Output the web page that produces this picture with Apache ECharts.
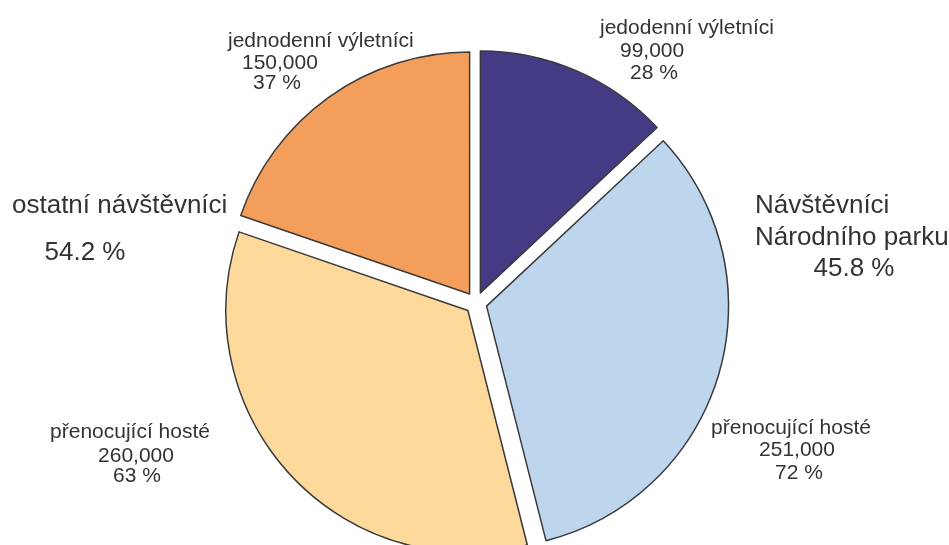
<!DOCTYPE html>
<html>
<head>
<meta charset="utf-8">
<script src="https://cdn.jsdelivr.net/npm/echarts@6/dist/echarts.min.js"></script>
<style>
  html, body { margin: 0; padding: 0; background: #ffffff; }
  #chart { width: 949px; height: 545px; }
</style>
</head>
<body>
<div id="chart"></div>
<script>
// Visitor categories, clockwise from 12 o'clock
const categories = ['jedodenní výletníci', 'přenocující hosté', 'přenocující hosté', 'jednodenní výletníci'];
const visitors = [99000, 251000, 260000, 150000];
// 0 = park visitors, 1 = other visitors
const groupIndex = [0, 0, 1, 1];
const groupTitles = [['Návštěvníci', 'Národního parku'], ['ostatní návštěvníci']];
const groupShares = [45.8, 54.2];

const sliceColors = ['#433b84', '#bed5ee', '#fdd99b', '#f49e5b'];

// share of each slice within its own group
const groupTotals = [0, 0];
visitors.forEach((v, i) => { groupTotals[groupIndex[i]] += v; });
const groupPct = visitors.map((v, i) => Math.round(v / groupTotals[groupIndex[i]] * 100));

const fmt = v => v.toLocaleString('en-US');

const font = '"Liberation Sans", Arial, sans-serif';
const smallFont = '21px ' + font;
const bigFont = '26px ' + font;

// per-slice label lines: [x, y] for name / value / percentage, and text alignment
const labelLines = [
  { align: 'left',   pts: [[600, 28], [620, 51], [630, 73]] },
  { align: 'center', pts: [[791, 428], [797, 450], [799, 473]] },
  { align: 'center', pts: [[130, 432], [136, 456], [137, 476]] },
  { align: 'left',   pts: [[228, 41], [242, 63], [253, 83]] }
];

const sliceLabels = [];
visitors.forEach((v, i) => {
  const texts = [categories[i], fmt(v), groupPct[i] + ' %'];
  texts.forEach((t, k) => {
    const pt = labelLines[i].pts[k];
    sliceLabels.push({
      type: 'text', silent: true,
      style: { x: pt[0], y: pt[1], text: t, font: smallFont, fill: '#333', textAlign: labelLines[i].align, textVerticalAlign: 'middle' }
    });
  });
});

const groupLabels = [
  { type: 'text', silent: true, style: { x: 12, y: 206, text: groupTitles[1][0], font: bigFont, fill: '#333', textAlign: 'left', textVerticalAlign: 'middle' } },
  { type: 'text', silent: true, style: { x: 85, y: 253, text: groupShares[1].toFixed(1) + ' %', font: bigFont, fill: '#333', textAlign: 'center', textVerticalAlign: 'middle' } },
  { type: 'text', silent: true, style: { x: 755, y: 206, text: groupTitles[0][0], font: bigFont, fill: '#333', textAlign: 'left', textVerticalAlign: 'middle' } },
  { type: 'text', silent: true, style: { x: 755, y: 238, text: groupTitles[0][1], font: bigFont, fill: '#333', textAlign: 'left', textVerticalAlign: 'middle' } },
  { type: 'text', silent: true, style: { x: 854, y: 269, text: groupShares[0].toFixed(1) + ' %', font: bigFont, fill: '#333', textAlign: 'center', textVerticalAlign: 'middle' } }
];

const data = visitors.map((v, i) => ({
  name: categories[i],
  value: v,
  selected: true,
  itemStyle: { color: sliceColors[i] },
  select: { itemStyle: { color: sliceColors[i], borderColor: '#3a3a3a', borderWidth: 1.5 } }
}));

const chart = echarts.init(document.getElementById('chart'), null, { renderer: 'canvas' });

chart.setOption({
  animation: false,
  backgroundColor: '#ffffff',
  textStyle: { fontFamily: font },
  series: [{
    type: 'pie',
    center: [476, 303],
    radius: 242,
    startAngle: 90,
    clockwise: true,
    selectedMode: 'multiple',
    selectedOffset: 11,
    emphasis: { disabled: true },
    itemStyle: { borderColor: '#3a3a3a', borderWidth: 1.5 },
    label: { show: false },
    labelLine: { show: false },
    data: data
  }],
  graphic: sliceLabels.concat(groupLabels)
});
</script>
</body>
</html>
